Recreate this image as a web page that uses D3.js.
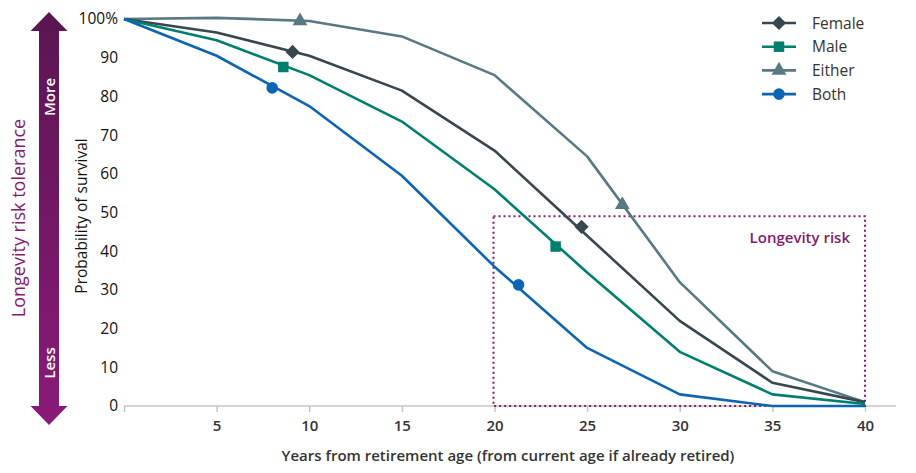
<!DOCTYPE html>
<html>
<head>
<meta charset="utf-8">
<script src="https://cdn.jsdelivr.net/npm/d3@7"></script>
<style>
  body { margin: 0; background: #fff; }
  svg text { font-family: "Open Sans", Lato, sans-serif; }
</style>
</head>
<body>
<div id="viz"></div>
<script>
// Data
const years = [0, 5, 10, 15, 20, 25, 30, 35, 40];
const female = [100, 96.5, 90.5, 81.5, 66, 44, 22, 6, 1];
const male = [100, 94.5, 85.5, 73.5, 56, 34.5, 14, 3, 0.5];
const either = [100, 100.3, 99.5, 95.5, 85.5, 64.5, 32, 9, 1];
const both = [100, 90.5, 77.5, 59.5, 36, 15, 3, 0, 0];
const seriesNames = ['Female', 'Male', 'Either', 'Both'];
// marker positions [year, value]
const femaleMarks = [[9.1, 91.5], [24.7, 46.3]];
const maleMarks = [[8.6, 87.6], [23.3, 41.2]];
const eitherMarks = [[9.5, 99.5], [26.9, 52]];
const bothMarks = [[8.0, 82.2], [21.3, 31.3]];
const xTicks = [5, 10, 15, 20, 25, 30, 35, 40];
const yTicks = [0, 10, 20, 30, 40, 50, 60, 70, 80, 90, 100];
const riskBox = { x0: 20, x1: 40, y0: 0, y1: 49 };

const W = 916, H = 473;
const purple = '#85186f';
const font = '"Open Sans", Lato, sans-serif';

const svg = d3.select('#viz').append('svg')
  .attr('width', W)
  .attr('height', H);

const x = d3.scaleLinear().domain([0, 40]).range([124, 865]);
const y = d3.scaleLinear().domain([0, 100]).range([406, 19]);

// Gradient for the tolerance arrow
const defs = svg.append('defs');
const grad = defs.append('linearGradient')
  .attr('id', 'arrowGrad')
  .attr('x1', 0).attr('y1', 0).attr('x2', 0).attr('y2', 1);
grad.append('stop').attr('offset', '0%').attr('stop-color', '#5a1552');
grad.append('stop').attr('offset', '100%').attr('stop-color', '#8a1a78');

// Double arrow
const ax = 49, arrTop = 12, arrBot = 425, headH = 19, headW = 18.5, shaftW = 10;
svg.append('path')
  .attr('d', `M${ax},${arrTop} L${ax + headW},${arrTop + headH} L${ax + shaftW},${arrTop + headH}
    L${ax + shaftW},${arrBot - headH} L${ax + headW},${arrBot - headH} L${ax},${arrBot}
    L${ax - headW},${arrBot - headH} L${ax - shaftW},${arrBot - headH} L${ax - shaftW},${arrTop + headH}
    L${ax - headW},${arrTop + headH} Z`)
  .attr('fill', 'url(#arrowGrad)');

svg.append('text')
  .attr('transform', `translate(${ax + 5.5},97) rotate(-90)`)
  .attr('text-anchor', 'middle')
  .attr('fill', '#fff')
  .attr('font-size', 15)
  .attr('font-weight', 600)
  .text('More');
svg.append('text')
  .attr('transform', `translate(${ax + 5.5},363) rotate(-90)`)
  .attr('text-anchor', 'middle')
  .attr('fill', '#fff')
  .attr('font-size', 15)
  .attr('font-weight', 600)
  .text('Less');

svg.append('text')
  .attr('transform', 'translate(25,218) rotate(-90)')
  .attr('text-anchor', 'middle')
  .attr('fill', purple)
  .attr('font-size', 18)
  .text('Longevity risk tolerance');

// Y axis label
svg.append('text')
  .attr('transform', 'translate(87,216) rotate(-90)')
  .attr('text-anchor', 'middle')
  .attr('fill', '#111')
  .attr('font-size', 15.5)
  .text('Probability of survival');

// Y tick labels (no axis line)
const yAxis = svg.append('g')
  .attr('transform', 'translate(118,0)')
  .call(d3.axisLeft(y).tickValues(yTicks).tickSize(0).tickPadding(0)
    .tickFormat(d => d === 100 ? '100%' : d));
yAxis.select('.domain').remove();
yAxis.selectAll('text')
  .attr('font-size', 15.5)
  .attr('fill', '#111')
  .style('font-family', font);

// X axis
const xAxis = svg.append('g')
  .attr('transform', `translate(0,${y(0)})`)
  .call(d3.axisBottom(x).tickValues([0].concat(xTicks)).tickSize(6).tickPadding(8)
    .tickFormat(d => d === 0 ? '' : d));
xAxis.select('.domain')
  .attr('d', `M${x(0)},0H896`)
  .attr('stroke', '#c4c4c4')
  .attr('stroke-width', 1.5);
xAxis.selectAll('.tick line').attr('stroke', '#c4c4c4').attr('stroke-width', 1.5);
xAxis.selectAll('text')
  .attr('font-size', 15)
  .attr('font-weight', 600)
  .attr('fill', '#333')
  .style('font-family', font);

svg.append('text')
  .attr('x', 508)
  .attr('y', 461)
  .attr('text-anchor', 'middle')
  .attr('font-size', 15)
  .attr('font-weight', 600)
  .attr('fill', '#333')
  .text('Years from retirement age (from current age if already retired)');

// Longevity risk box
svg.append('rect')
  .attr('x', x(riskBox.x0) - 1)
  .attr('y', y(riskBox.y1))
  .attr('width', x(riskBox.x1) - x(riskBox.x0) + 1)
  .attr('height', y(riskBox.y0) - y(riskBox.y1))
  .attr('fill', 'none')
  .attr('stroke', purple)
  .attr('stroke-width', 2)
  .attr('stroke-dasharray', '2,3');
svg.append('text')
  .attr('x', x(riskBox.x1) - 15)
  .attr('y', y(riskBox.y1) + 27)
  .attr('text-anchor', 'end')
  .attr('font-size', 15)
  .attr('font-weight', 600)
  .attr('fill', purple)
  .text('Longevity risk');

// Series
const diamond = d3.symbol().type(d3.symbolSquare).size(100)();
const series = [
  { name: 'Female', values: female, marks: femaleMarks, color: '#36474f', shape: null, size: 100 },
  { name: 'Male', values: male, marks: maleMarks, color: '#007f6e', shape: d3.symbolSquare, size: 110 },
  { name: 'Either', values: either, marks: eitherMarks, color: '#587883', shape: d3.symbolTriangle, size: 95 },
  { name: 'Both', values: both, marks: bothMarks, color: '#0b65b2', shape: d3.symbolCircle, size: 105 }
];
const markPath = s => s.shape ? d3.symbol().type(s.shape).size(s.size)() : diamond;
const markRot = s => s.shape ? '' : ' rotate(45)';

const line = d3.line()
  .x((d, i) => x(years[i]))
  .y(d => y(d));

// draw order: Either at back, then Female, Male, Both
[series[2], series[0], series[1], series[3]].forEach(s => {
  svg.append('path')
    .datum(s.values)
    .attr('d', line)
    .attr('fill', 'none')
    .attr('stroke', s.color)
    .attr('stroke-width', 2.6)
    .attr('stroke-linejoin', 'round');
  svg.selectAll(null)
    .data(s.marks)
    .enter()
    .append('path')
    .attr('transform', d => `translate(${x(d[0])},${y(d[1])})${markRot(s)}`)
    .attr('d', markPath(s))
    .attr('fill', s.color);
});

// Legend
const legend = svg.append('g').attr('transform', 'translate(762,23)');
series.forEach((s, i) => {
  const g = legend.append('g').attr('transform', `translate(0,${i * 23.7})`);
  g.append('line')
    .attr('x1', 0).attr('x2', 34)
    .attr('y1', 0).attr('y2', 0)
    .attr('stroke', s.color)
    .attr('stroke-width', 2.6);
  g.append('path')
    .attr('transform', `translate(17,0)${markRot(s)}`)
    .attr('d', markPath(s))
    .attr('fill', s.color);
  g.append('text')
    .attr('x', 50)
    .attr('y', 5.5)
    .attr('font-size', 15.5)
    .attr('fill', '#333')
    .text(seriesNames[i]);
});
</script>
</body>
</html>
